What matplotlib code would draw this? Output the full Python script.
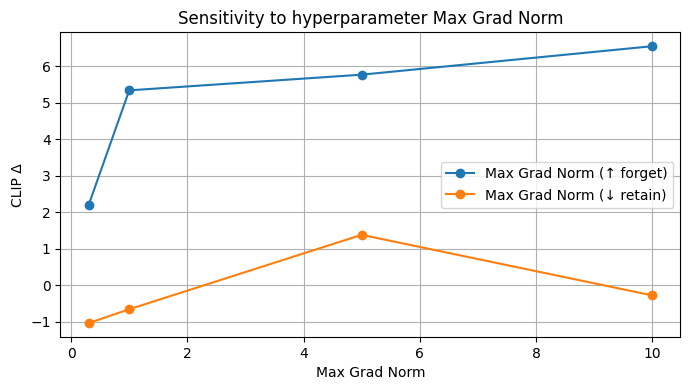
import matplotlib.pyplot as plt

# hyperparameter values
max_grad_norm = [0.3, 1, 5, 10]
forget_delta = [2.19, 5.34, 5.77, 6.55]
retain_delta = [-1.04, -0.66, 1.38, -0.28]

fig, ax = plt.subplots(figsize=(6.9, 3.9), dpi=100)
ax.plot(max_grad_norm, forget_delta, marker='o', label='Max Grad Norm (\u2191 forget)')
ax.plot(max_grad_norm, retain_delta, marker='o', label='Max Grad Norm (\u2193 retain)')
ax.set_xlabel('Max Grad Norm')
ax.set_ylabel('CLIP \u0394')
ax.set_title('Sensitivity to hyperparameter Max Grad Norm')
ax.grid(True)
ax.legend()
fig.subplots_adjust(left=0.0875, right=0.986, top=0.917, bottom=0.136)
fig.savefig('out.png')
